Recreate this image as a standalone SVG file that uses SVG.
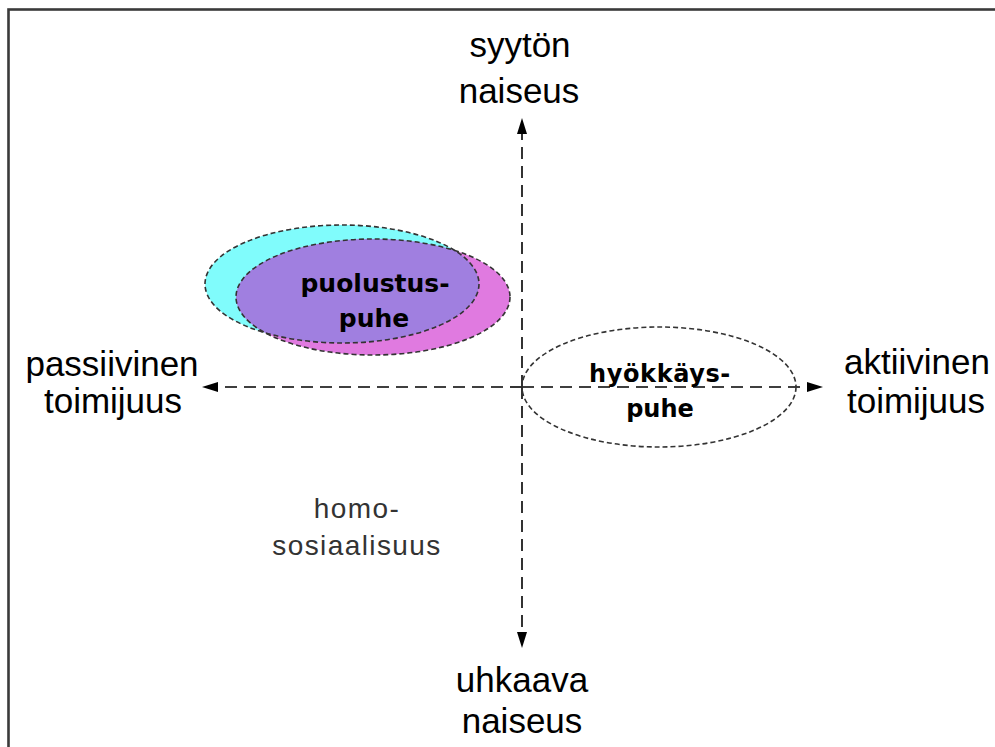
<svg xmlns="http://www.w3.org/2000/svg" width="995" height="747" viewBox="0 0 995 747">
  <style>
    .axis-label { font-family: "Liberation Sans", Arial, sans-serif; font-size: 35px; fill: #000; text-anchor: middle; }
    .zone-label { font-family: "DejaVu Sans", "Liberation Sans", sans-serif; font-weight: bold; fill: #000; text-anchor: middle; }
    .note { font-family: "Liberation Sans", Arial, sans-serif; font-size: 28px; fill: #333; text-anchor: middle; letter-spacing: 1.4px; }
    .axis { stroke: #000; stroke-width: 1.6; stroke-dasharray: 12 7; fill: none; }
    .zone { stroke: #333; stroke-width: 1.6; stroke-dasharray: 5 3; }
  </style>
  <defs>
    <marker id="arrow" viewBox="0 0 16 10" refX="0" refY="5" markerWidth="16" markerHeight="10" markerUnits="userSpaceOnUse" orient="auto">
      <path d="M0,0 L16,5 L0,10 Z" fill="#000"/>
    </marker>
    <ellipse id="zoneA" cx="342" cy="284" rx="137" ry="59"/>
    <clipPath id="clipA">
      <use href="#zoneA"/>
    </clipPath>
  </defs>

  <!-- background and frame -->
  <rect x="0" y="0" width="995" height="747" fill="#fff"/>
  <rect x="8.5" y="9.5" width="1100" height="900" fill="none" stroke="#3a3a3a" stroke-width="2.6"/>

  <!-- connectors: the two axes -->
  <g id="axes">
    <line class="axis" x1="522" y1="387" x2="522" y2="134" marker-end="url(#arrow)"/>
    <line class="axis" x1="522" y1="387" x2="522" y2="632" marker-end="url(#arrow)"/>
    <line class="axis" x1="522" y1="387" x2="218" y2="387" marker-end="url(#arrow)"/>
    <line class="axis" x1="522" y1="387" x2="807" y2="387" marker-end="url(#arrow)"/>
  </g>

  <!-- defence-speech zone: two overlapping ellipses -->
  <g id="puolustuspuhe">
    <use href="#zoneA" fill="#80FCFC"/>
    <ellipse cx="373" cy="297" rx="137" ry="58" fill="#E07AE0"/>
    <ellipse cx="373" cy="297" rx="137" ry="58" fill="#A07FE0" clip-path="url(#clipA)"/>
    <use href="#zoneA" fill="none" class="zone"/>
    <ellipse cx="373" cy="297" rx="137" ry="58" fill="none" class="zone"/>
    <text class="zone-label" font-size="25" x="375" y="292">puolustus-</text>
    <text class="zone-label" font-size="25" x="374" y="327">puhe</text>
  </g>

  <!-- attack-speech zone -->
  <g id="hyokkayspuhe">
    <ellipse cx="659" cy="387" rx="137" ry="60" fill="none" class="zone"/>
    <text class="zone-label" font-size="24" letter-spacing="0.6" x="660" y="382">hyökkäys-</text>
    <text class="zone-label" font-size="24" x="660" y="417">puhe</text>
  </g>

  <!-- axis end labels -->
  <g id="top-label">
    <text class="axis-label" x="520" y="57">syytön</text>
    <text class="axis-label" x="519" y="103">naiseus</text>
  </g>
  <g id="bottom-label">
    <text class="axis-label" x="522" y="692">uhkaava</text>
    <text class="axis-label" x="522" y="733">naiseus</text>
  </g>
  <g id="left-label">
    <text class="axis-label" x="112" y="376">passiivinen</text>
    <text class="axis-label" x="113" y="413">toimijuus</text>
  </g>
  <g id="right-label">
    <text class="axis-label" x="917" y="374">aktiivinen</text>
    <text class="axis-label" x="916" y="413">toimijuus</text>
  </g>

  <!-- quadrant note -->
  <g id="homososiaalisuus">
    <text class="note" x="357" y="518">homo-</text>
    <text class="note" x="357" y="555">sosiaalisuus</text>
  </g>
</svg>
